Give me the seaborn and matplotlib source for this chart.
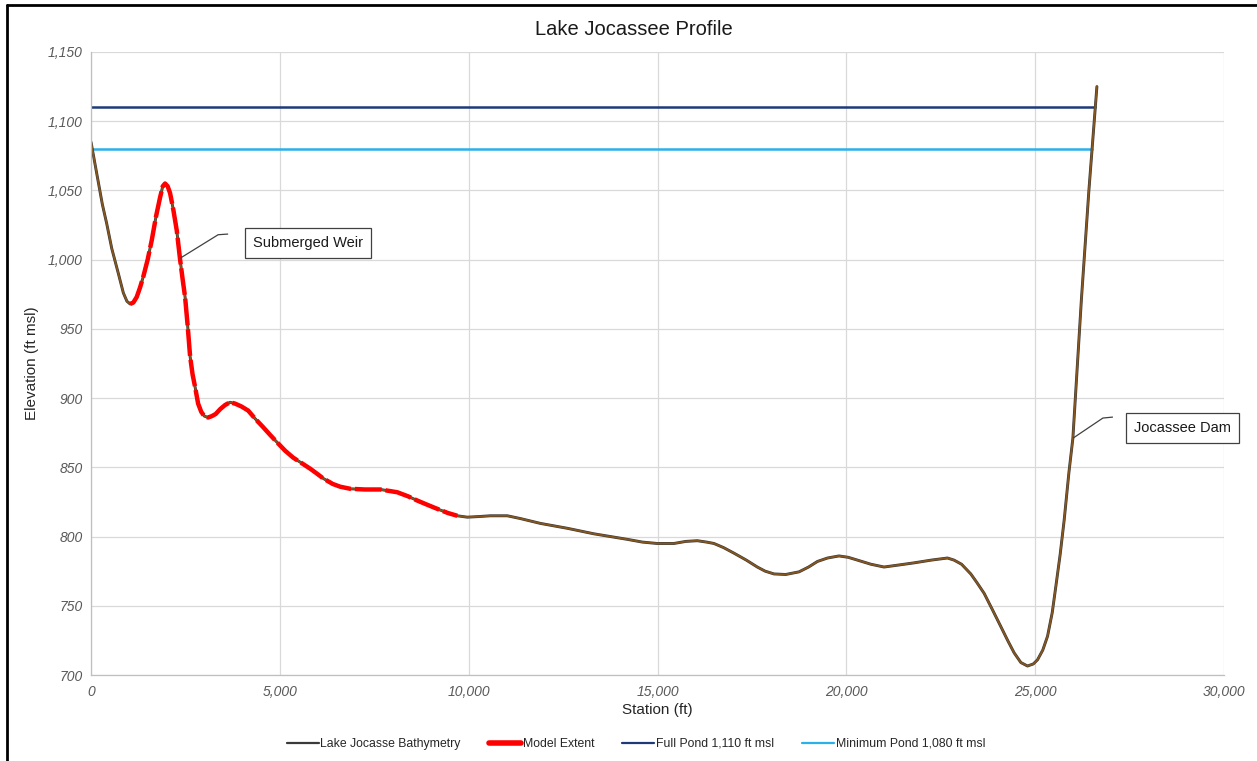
import matplotlib
matplotlib.use("Agg")
import matplotlib.pyplot as plt
from matplotlib.lines import Line2D
import seaborn as sns
import pandas as pd

# ---------------- data ----------------
station = [0, 100, 200, 300, 416, 550, 724, 856, 950, 1034, 1120, 1210, 1300, 1387,
           1500, 1608, 1720, 1829, 1900, 1961, 2030, 2094, 2180, 2271, 2359, 2430,
           2491, 2560, 2624, 2690, 2756, 2836, 2920, 3000, 3101, 3200, 3300, 3419,
           3550, 3680, 3816, 3980, 4161, 4350, 4558, 4740, 4929, 5140, 5353, 5580,
           5804, 5980, 6148, 6400, 6599, 6864, 7250, 7659, 8109, 8400, 8639, 8900,
           9169, 9450, 9699, 9964, 10300, 10574, 11024, 11369, 11899, 12606, 13312,
           14196, 14600, 14991, 15433, 15750, 16052, 16300, 16494, 16750, 17024,
           17350, 17641, 17850, 18083, 18392, 18745, 19000, 19233, 19500, 19805,
           20050, 20291, 20650, 20997, 21400, 21792, 22250, 22676, 22850, 23050,
           23294, 23450, 23647, 23870, 24089, 24270, 24442, 24620, 24796, 24950,
           25061, 25200, 25326, 25450, 25546, 25660, 25767, 25891, 25997, 26222,
           26421, 26633]
elevation = [1085, 1070, 1055, 1040, 1026, 1008, 990, 976, 970, 968, 969, 973, 980,
             988, 1000, 1014, 1031, 1045, 1053, 1055, 1053, 1048, 1036, 1021, 1000,
             985, 973, 952, 930, 917, 908, 896, 890, 887, 886, 887, 888.5, 892,
             895, 897, 896, 894, 891, 885, 879, 873.5, 868, 862, 857, 853,
             849, 845.5, 842, 838, 836, 834.5, 834, 834, 832, 829, 826, 823,
             820, 817, 815, 814, 814.5, 815, 815, 813, 809.5, 806, 802,
             798, 796, 795, 795, 796.5, 797, 796, 795, 792, 788,
             783, 778, 775, 773, 772.6, 774.5, 778, 782, 784.5, 786,
             785, 783, 780, 778, 779.5, 781, 783, 784.5, 783, 780,
             773, 767, 759, 747, 735, 725, 716, 709, 706.5, 708,
             711, 718, 728, 745, 764, 787, 812, 846, 871, 971,
             1050, 1125]

model_start, model_end = 1034, 9699          # Model Extent station range
full_pond = 1110
full_pond_station = [0, 26585]
min_pond = 1080
min_pond_station = [0, 26500]

x_ticks = [0, 5000, 10000, 15000, 20000, 25000, 30000]
y_ticks = [700, 750, 800, 850, 900, 950, 1000, 1050, 1100, 1150]

labels = ["Lake Jocasse Bathymetry", "Model Extent",
          "Full Pond 1,110 ft msl", "Minimum Pond 1,080 ft msl"]

# annotation leader (anchor, knee, end) and box centre
weir_leader = ([2359, 3366, 3631], [1001, 1018, 1018.5])
weir_box = (5751, 1012)
dam_leader = ([25997, 26792, 27057], [871, 885.6, 886.3])
dam_box = (28912, 878.7)

# ---------------- style ----------------
sns.set_theme(style="whitegrid")
plt.rcParams["font.family"] = ["Liberation Sans", "DejaVu Sans"]

fig, ax = plt.subplots(figsize=(12.57, 7.61), dpi=100)
fig.subplots_adjust(left=0.0724, right=0.9738, top=0.9317, bottom=0.1130)
ax.set_facecolor("white")

df = pd.DataFrame({"Station": station, "Elevation": elevation})
model = df[(df["Station"] >= model_start) & (df["Station"] <= model_end)]
full_df = pd.DataFrame({"Station": full_pond_station, "Elevation": [full_pond] * 2})
min_df = pd.DataFrame({"Station": min_pond_station, "Elevation": [min_pond] * 2})

bathy_col = "#3a3a3a"
brown = "#86561e"
navy = "#1f3a78"
light_blue = "#2bb0ea"

sns.lineplot(data=full_df, x="Station", y="Elevation", color=navy, lw=1.8, ax=ax)
sns.lineplot(data=min_df, x="Station", y="Elevation", color=light_blue, lw=1.8, ax=ax)
sns.lineplot(data=df, x="Station", y="Elevation", sort=False, estimator=None,
             color=bathy_col, lw=2.1, ax=ax)
sns.lineplot(data=df, x="Station", y="Elevation", sort=False, estimator=None,
             color=brown, lw=1.3, ax=ax)
sns.lineplot(data=model, x="Station", y="Elevation", sort=False, estimator=None,
             color="#ff0000", lw=3.2, linestyle=(0, (6, 0.9)),
             dash_capstyle="butt", ax=ax)

ax.set_xlim(0, 30000)
ax.set_ylim(700, 1150)
ax.set_xticks(x_ticks)
ax.set_xticklabels([f"{v:,}" for v in x_ticks], fontstyle="italic",
                   fontsize=10, color="#595959")
ax.set_yticks(y_ticks)
ax.set_yticklabels([f"{v:,}" for v in y_ticks], fontstyle="italic",
                   fontsize=10, color="#595959")
ax.tick_params(axis="both", length=0)
ax.tick_params(axis="x", pad=7)
ax.tick_params(axis="y", pad=6)
ax.grid(True, color="#d9d9d9", lw=0.9)
for side in ["top", "right"]:
    ax.spines[side].set_visible(False)
for side in ["left", "bottom"]:
    ax.spines[side].set_color("#bfbfbf")
    ax.spines[side].set_linewidth(0.9)

ax.set_title("Lake Jocassee Profile", fontsize=14.5, color="#1a1a1a", pad=12,
             x=0.479)
ax.set_xlabel("Station (ft)", fontsize=11, color="#262626", labelpad=3)
ax.set_ylabel("Elevation (ft msl)", fontsize=11, color="#262626", labelpad=6)

# annotations
for (lx, ly), (bx, by), txt in [(weir_leader, weir_box, "Submerged Weir"),
                                (dam_leader, dam_box, "Jocassee Dam")]:
    ax.plot(lx, ly, color="#404040", lw=0.9, solid_capstyle="butt")
    ax.text(bx, by, txt, ha="center", va="center", fontsize=10.5, color="#1a1a1a",
            bbox=dict(boxstyle="square,pad=0.55", fc="white", ec="#404040", lw=0.9))

# legend
handles = [Line2D([], [], color=bathy_col, lw=1.6),
           Line2D([], [], color="#ff0000", lw=4),
           Line2D([], [], color=navy, lw=1.6),
           Line2D([], [], color=light_blue, lw=1.6)]
ax.legend(handles, labels, loc="center", bbox_to_anchor=(636 / 1257, 1 - 744 / 761),
          bbox_transform=fig.transFigure, ncol=4, frameon=False, fontsize=8.8,
          handlelength=2.6, handletextpad=0.15, columnspacing=2.3)

# outer frame (top and left edges visible in the reference)
fig.add_artist(Line2D([7 / 1257, 7 / 1257], [0, 1 - 5 / 761],
                      transform=fig.transFigure, color="black", lw=2))
fig.add_artist(Line2D([7 / 1257, 1], [1 - 5 / 761, 1 - 5 / 761],
                      transform=fig.transFigure, color="black", lw=2))

fig.savefig("out.png", dpi=100)
